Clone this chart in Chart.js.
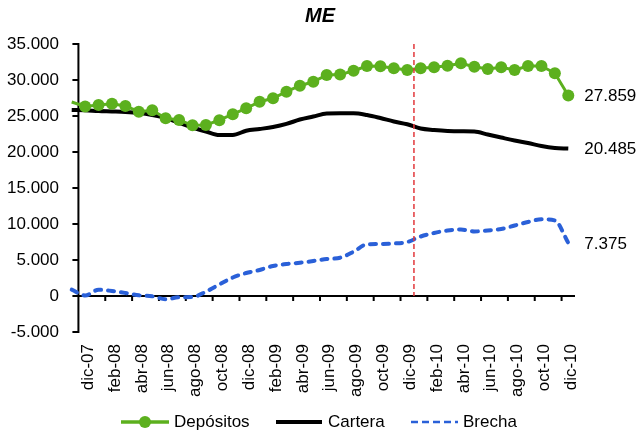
<!DOCTYPE html>
<html>
<head>
<meta charset="utf-8">
<script src="https://cdn.jsdelivr.net/npm/chart.js@4/dist/chart.umd.min.js"></script>
<style>
  html, body { margin: 0; padding: 0; background: #fff; }
  canvas { display: block; }
</style>
</head>
<body>
<canvas id="chart" width="636" height="435"></canvas>
<script>
// monthly series, nov-07 .. dic-10
const months = [
  'nov-07', 'dic-07', 'ene-08', 'feb-08', 'mar-08', 'abr-08', 'may-08', 'jun-08', 'jul-08', 'ago-08',
  'sep-08', 'oct-08', 'nov-08', 'dic-08', 'ene-09', 'feb-09', 'mar-09', 'abr-09', 'may-09', 'jun-09',
  'jul-09', 'ago-09', 'sep-09', 'oct-09', 'nov-09', 'dic-09', 'ene-10', 'feb-10', 'mar-10', 'abr-10',
  'may-10', 'jun-10', 'jul-10', 'ago-10', 'sep-10', 'oct-10', 'nov-10', 'dic-10'
];
const depositos = [
  26950, 26320, 26530, 26710, 26390, 25600, 25790, 24680, 24440, 23710,
  23750, 24420, 25250, 26070, 26990, 27460, 28380, 29210, 29760, 30700,
  30750, 31290, 31940, 31900, 31620, 31390, 31620, 31760, 31990, 32320,
  31850, 31530, 31760, 31390, 31940, 31940, 30930, 27859
];
const cartera = [
  25830, 25790, 25690, 25630, 25560, 25420, 25140, 24720, 24030, 23400,
  22850, 22360, 22360, 22950, 23190, 23470, 23900, 24510, 24930, 25350,
  25380, 25380, 25140, 24720, 24240, 23850, 23260, 23060, 22920, 22870,
  22850, 22430, 22010, 21600, 21250, 20830, 20560, 20485
];
const brecha = [
  875, 70, 875, 695, 420, 100, -40, -460, -180, -140,
  600, 1600, 2570, 3190, 3610, 4170, 4440, 4620, 4860, 5140,
  5320, 6150, 7180, 7220, 7290, 7500, 8260, 8750, 9100, 9240,
  8960, 9100, 9310, 9790, 10280, 10650, 10490, 7375
];
const seriesNames = ['Depósitos', 'Cartera', 'Brecha'];
const yMin = -5000;
const yMax = 35000;
const yStep = 5000;
const cutMonth = 'dic-09';   // red dashed separator after this month
const title = 'ME';

const FONT = '"Liberation Sans", Arial, sans-serif';
const GREEN = '#5cb01e';
const BLUE = '#2a60d8';
const RED = '#e2383c';

function fmt(v) {
  const s = String(Math.abs(Math.round(v))).replace(/\B(?=(\d{3})+(?!\d))/g, '.');
  return (v < 0 ? '-' : '') + s;
}

Chart.defaults.color = '#000';
Chart.defaults.font.family = FONT;
Chart.defaults.font.size = 17;

const overlay = {
  id: 'overlay',
  beforeDatasetsDraw(chart) {
    const { ctx, chartArea, scales: { x, y } } = chart;
    const axisX = (x.getPixelForValue(0) + x.getPixelForValue(1)) / 2;
    const zeroY = y.getPixelForValue(0);
    ctx.save();
    ctx.strokeStyle = '#000';
    ctx.lineWidth = 2;
    ctx.beginPath();
    ctx.moveTo(axisX, y.getPixelForValue(yMax) - 1);
    ctx.lineTo(axisX, y.getPixelForValue(yMin) + 1);
    y.ticks.forEach(t => {
      const py = y.getPixelForValue(t.value);
      ctx.moveTo(axisX - 6, py);
      ctx.lineTo(axisX, py);
    });
    ctx.moveTo(axisX, zeroY);
    ctx.lineTo(chartArea.right, zeroY);
    for (let i = 0; i < months.length - 1; i += 2) {
      const bx = (x.getPixelForValue(i) + x.getPixelForValue(i + 1)) / 2;
      ctx.moveTo(bx, zeroY);
      ctx.lineTo(bx, zeroY + 5);
    }
    ctx.stroke();
    ctx.restore();
  },
  afterDatasetsDraw(chart) {
    const { ctx, chartArea, scales: { x, y } } = chart;
    const ci = months.indexOf(cutMonth);
    const cx = (x.getPixelForValue(ci) + x.getPixelForValue(ci + 1)) / 2;
    ctx.save();
    ctx.strokeStyle = RED;
    ctx.lineWidth = 1.5;
    ctx.setLineDash([5, 3]);
    ctx.beginPath();
    ctx.moveTo(cx, y.getPixelForValue(yMax));
    ctx.lineTo(cx, y.getPixelForValue(0));
    ctx.stroke();
    ctx.setLineDash([]);

    // end-of-series value labels
    ctx.font = '17px ' + FONT;
    ctx.fillStyle = '#000';
    ctx.textAlign = 'left';
    ctx.textBaseline = 'middle';
    chart.data.datasets.forEach((ds, di) => {
      const meta = chart.getDatasetMeta(di);
      const last = meta.data[meta.data.length - 1];
      ctx.fillText(fmt(ds.data[ds.data.length - 1]), last.x + 16, last.y + 1);
    });

    // title
    ctx.font = 'bold italic 20px ' + FONT;
    ctx.textAlign = 'center';
    ctx.fillText(title, (chartArea.left + chartArea.right) / 2, 16);

    // legend
    const ly = 422;
    ctx.font = '17px ' + FONT;
    ctx.textAlign = 'left';
    ctx.lineCap = 'butt';
    ctx.strokeStyle = GREEN;
    ctx.lineWidth = 3.5;
    ctx.beginPath(); ctx.moveTo(121, ly); ctx.lineTo(169, ly); ctx.stroke();
    ctx.fillStyle = GREEN;
    ctx.beginPath(); ctx.arc(145, ly, 6, 0, Math.PI * 2); ctx.fill();
    ctx.fillStyle = '#000';
    ctx.fillText(seriesNames[0], 174, ly);
    ctx.strokeStyle = '#000';
    ctx.lineWidth = 4;
    ctx.beginPath(); ctx.moveTo(276, ly); ctx.lineTo(322, ly); ctx.stroke();
    ctx.fillText(seriesNames[1], 328, ly);
    ctx.strokeStyle = BLUE;
    ctx.lineWidth = 2.5;
    ctx.setLineDash([7, 4]);
    ctx.beginPath(); ctx.moveTo(411, ly); ctx.lineTo(458, ly); ctx.stroke();
    ctx.setLineDash([]);
    ctx.fillText(seriesNames[2], 463, ly);
    ctx.restore();
  }
};

const markerSizes = depositos.map((v, i) => (i === 0 ? 0 : 6));

new Chart(document.getElementById('chart'), {
  type: 'line',
  data: {
    labels: months,
    datasets: [
      {
        label: seriesNames[0],
        data: depositos,
        borderColor: GREEN,
        backgroundColor: GREEN,
        borderWidth: 3,
        pointRadius: markerSizes,
        pointBorderWidth: 0,
        pointBackgroundColor: GREEN,
        tension: 0
      },
      {
        label: seriesNames[1],
        data: cartera,
        borderColor: '#000',
        borderWidth: 4,
        pointRadius: 0,
        cubicInterpolationMode: 'monotone'
      },
      {
        label: seriesNames[2],
        data: brecha,
        borderColor: BLUE,
        borderWidth: 4,
        borderDash: [6, 7],
        borderCapStyle: 'round',
        pointRadius: 0,
        cubicInterpolationMode: 'monotone'
      }
    ]
  },
  options: {
    responsive: false,
    devicePixelRatio: 1,
    animation: false,
    layout: { padding: { top: 44, right: 61, bottom: 31, left: 0 } },
    plugins: {
      legend: { display: false },
      title: { display: false },
      tooltip: { enabled: false }
    },
    scales: {
      x: {
        type: 'category',
        offset: true,
        grid: { display: false, drawTicks: false },
        border: { display: false },
        ticks: {
          autoSkip: false,
          minRotation: 90,
          maxRotation: 90,
          padding: 12,
          labelOffset: 3,
          callback: (v, i) => (i % 2 === 1 ? months[i] : '')
        },
        afterFit: s => { s.height = 72; }
      },
      y: {
        min: yMin,
        max: yMax,
        grid: { display: false, drawTicks: false },
        border: { display: false },
        ticks: { stepSize: yStep, padding: 6, callback: v => fmt(v) },
        afterFit: s => { s.width = 65; }
      }
    }
  },
  plugins: [overlay]
});
</script>
</body>
</html>
